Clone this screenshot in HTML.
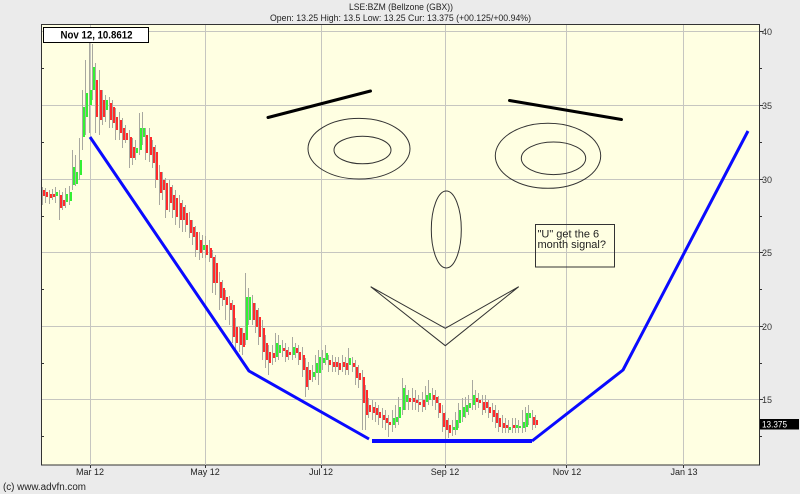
<!DOCTYPE html>
<html><head><meta charset="utf-8"><style>
html,body{margin:0;padding:0;background:#ebebeb;}
svg{display:block;}
text{font-family:"Liberation Sans",Arial,sans-serif;}
</style></head><body>
<svg width="800" height="494" viewBox="0 0 800 494" xmlns="http://www.w3.org/2000/svg">
<rect x="0" y="0" width="800" height="494" fill="#ebebeb"/>
<text x="401" y="10" font-size="9" fill="#222" text-anchor="middle" textLength="104" lengthAdjust="spacingAndGlyphs">LSE:BZM (Bellzone (GBX))</text>
<text x="400.5" y="21" font-size="9" fill="#222" text-anchor="middle" textLength="261" lengthAdjust="spacingAndGlyphs">Open: 13.25 High: 13.5 Low: 13.25 Cur: 13.375 (+00.125/+00.94%)</text>
<rect x="41.5" y="24.5" width="718" height="440.5" fill="#ffffe2" stroke="#333" stroke-width="1"/>
<g stroke="#c6c6c0" stroke-width="1">
<path d="M90.5 25V465 M205.5 25V465 M321.5 25V465 M445.5 25V465 M566.5 25V465 M683.5 25V465"/>
<path d="M42 31.5H759 M42 105.5H759 M42 179.5H759 M42 252.5H759 M42 326.5H759 M42 399.5H759"/>
</g>
<g stroke="#333" stroke-width="1">
<path d="M759 31.5H763 M759 105.5H763 M759 179.5H763 M759 252.5H763 M759 326.5H763 M759 399.5H763 M759 68.5H762 M759 142.5H762 M759 216.5H762 M759 289.5H762 M759 363.5H762 M759 436.5H762"/>
<path d="M42 68.5H44 M42 142.5H44 M42 216.5H44 M42 289.5H44 M42 363.5H44 M42 436.5H44"/>
<path d="M90.5 465V468 M205.5 465V468 M321.5 465V468 M445.5 465V468 M566.5 465V468 M683.5 465V468"/>
</g>
<g font-size="9" fill="#333">
<text x="762" y="35">40</text>
<text x="762" y="109">35</text>
<text x="762" y="183">30</text>
<text x="762" y="256">25</text>
<text x="762" y="330">20</text>
<text x="762" y="403">15</text>
</g>
<rect x="760" y="419" width="39" height="10.5" fill="#000"/>
<text x="762" y="427.5" font-size="9" fill="#fff" textLength="25" lengthAdjust="spacingAndGlyphs">13.375</text>
<g font-size="9" fill="#222" text-anchor="middle">
<text x="90" y="475">Mar 12</text>
<text x="205" y="475">May 12</text>
<text x="321" y="475">Jul 12</text>
<text x="445" y="475">Sep 12</text>
<text x="567" y="475">Nov 12</text>
<text x="684" y="475">Jan 13</text>
</g>
<text x="3" y="490" font-size="10" fill="#222" textLength="83" lengthAdjust="spacingAndGlyphs">(c) www.advfn.com</text>
<!-- wicks -->
<path fill="none" stroke="#a8a8a0" stroke-width="1" d="M42.5 187V205 M45.5 188V203 M49.5 190V204 M52.5 189V200 M55.5 187V203 M59.5 190V220 M62.5 192V210 M65.5 188V208 M69.5 186V205 M72.5 150V190 M75.5 155V186 M79.5 138V180 M82.5 90V150 M85.5 60V135 M89.5 43V133 M92.5 44V100 M95.5 63V133 M99.5 70V135 M102.5 90V125 M105.5 95V122 M109.5 97V128 M112.5 100V128 M115.5 108V140 M119.5 112V140 M122.5 118V148 M125.5 125V143 M129.5 130V168 M132.5 138V165 M135.5 140V160 M139.5 113V155 M142.5 112V145 M145.5 128V160 M149.5 128V162 M152.5 140V168 M155.5 145V188 M159.5 165V205 M162.5 172V200 M165.5 178V218 M169.5 180V212 M172.5 185V218 M175.5 190V225 M179.5 195V228 M182.5 200V232 M185.5 205V232 M189.5 212V238 M192.5 220V245 M195.5 226V257 M199.5 232V260 M202.5 235V258 M205.5 236V258 M209.5 240V262 M212.5 250V293 M215.5 255V295 M219.5 272V310 M222.5 280V306 M225.5 290V320 M229.5 296V325 M232.5 300V343 M235.5 318V350 M239.5 327V352 M242.5 328V355 M245.5 273V345 M248.5 288V325 M252.5 295V325 M255.5 303V333 M258.5 308V345 M262.5 320V360 M265.5 335V368 M268.5 345V375 M272.5 345V365 M275.5 333V362 M278.5 335V360 M282.5 340V357 M285.5 343V362 M288.5 347V360 M292.5 337V360 M295.5 343V358 M298.5 345V365 M302.5 347V377 M305.5 358V397 M308.5 362V390 M312.5 365V382 M315.5 355V380 M318.5 350V385 M322.5 350V370 M325.5 345V365 M328.5 355V372 M332.5 355V372 M335.5 357V372 M338.5 357V375 M342.5 355V372 M345.5 357V375 M348.5 348V375 M352.5 357V372 M355.5 360V385 M358.5 365V388 M362.5 370V430 M365.5 385V430 M368.5 398V418 M372.5 400V420 M375.5 402V422 M378.5 405V425 M382.5 408V428 M385.5 410V430 M388.5 415V437 M392.5 410V432 M395.5 405V428 M398.5 397V425 M402.5 378V415 M405.5 385V410 M408.5 390V410 M412.5 388V410 M415.5 390V410 M418.5 395V412 M422.5 392V412 M425.5 386V410 M428.5 380V405 M432.5 388V406 M435.5 390V410 M438.5 396V418 M442.5 405V432 M445.5 412V443 M448.5 418V438 M452.5 420V436 M455.5 412V435 M458.5 403V428 M462.5 398V422 M465.5 397V418 M468.5 395V415 M472.5 380V410 M475.5 390V410 M478.5 393V408 M482.5 395V415 M485.5 395V413 M488.5 400V418 M492.5 403V422 M495.5 405V428 M498.5 410V432 M502.5 415V433 M505.5 418V433 M508.5 420V433 M512.5 418V433 M515.5 418V433 M518.5 420V433 M522.5 410V433 M525.5 407V432 M528.5 405V425 M532.5 410V430 M535.5 415V428"/>
<!-- red bodies -->
<path fill="none" stroke="#ff2a2a" stroke-width="2" d="M44 190V196 M47 192V197 M51 194V198 M54 194V197 M61 195V208 M64 200V206 M97 80V117 M101 90V120 M104 100V117 M111 103V120 M114 107V123 M117 117V130 M121 120V133 M124 128V140 M127 133V140 M131 137V158 M134 147V158 M147 135V153 M151 137V155 M154 147V163 M157 152V180 M161 172V193 M164 180V190 M167 183V210 M171 187V203 M174 195V210 M177 198V217 M181 203V220 M184 207V220 M187 213V225 M191 220V233 M194 227V237 M197 232V250 M201 240V253 M207 245V255 M211 248V258 M214 257V283 M217 263V283 M221 282V298 M224 288V300 M227 297V305 M231 303V310 M234 305V337 M237 327V343 M241 328V345 M244 333V347 M254 303V320 M257 310V327 M260 317V337 M264 328V352 M267 343V360 M270 352V363 M274 353V358 M284 348V351 M287 350V357 M290 352V355 M297 348V353 M300 352V360 M304 355V370 M307 367V387 M310 370V380 M330 360V365 M334 362V367 M337 362V367 M340 363V370 M344 362V367 M347 363V370 M354 363V367 M357 367V378 M360 373V380 M364 377V403 M367 390V415 M370 405V412 M374 407V413 M377 408V415 M380 412V418 M384 415V420 M387 418V423 M390 422V425 M410 398V402 M414 398V402 M417 400V403 M420 402V405 M424 400V407 M434 395V400 M437 397V403 M440 403V413 M444 413V427 M447 420V430 M450 425V433 M477 398V402 M480 400V403 M484 402V410 M487 402V408 M490 407V413 M494 410V417 M497 413V423 M500 418V427 M504 423V428 M507 425V428 M514 425V428 M534 417V425 M537 420V425"/>
<!-- green bodies -->
<path fill="none" stroke="#33f033" stroke-width="2" d="M57 192V196 M67 194V202 M71 192V201 M74 167V185 M77 172V184 M81 160V175 M84 107V137 M87 93V117 M91 90V105 M94 67V90 M107 100V110 M137 148V153 M141 128V150 M144 128V137 M204 245V250 M247 297V340 M250 297V320 M277 343V357 M280 345V353 M294 347V355 M314 372V377 M317 363V373 M320 357V373 M324 358V363 M327 353V360 M350 358V365 M394 418V425 M397 417V422 M400 407V418 M404 388V410 M407 395V402 M427 395V402 M430 393V400 M454 427V430 M457 420V430 M460 410V423 M464 407V417 M467 405V412 M470 403V408 M474 395V405 M510 427V430 M517 425V428 M520 426V428 M524 422V428 M527 413V427 M530 413V418"/>
<!-- blue U line -->
<g fill="none" stroke="#0a0aff" stroke-linejoin="round">
<polyline stroke-width="3" points="90,137 249,371 369,439"/>
<line stroke-width="4" x1="372" y1="441" x2="532" y2="441"/>
<polyline stroke-width="3" points="532,441 623,370 748,131"/>
</g>
<!-- face -->
<g stroke="#000" stroke-width="3" stroke-linecap="round">
<line x1="268" y1="117.5" x2="370.5" y2="91"/>
<line x1="509.5" y1="100.5" x2="621.5" y2="119.5"/>
</g>
<g fill="none" stroke="#333" stroke-width="1">
<ellipse cx="359" cy="148.7" rx="51" ry="30.3"/>
<ellipse cx="362.5" cy="150" rx="28.5" ry="13.8"/>
<ellipse cx="548" cy="155.8" rx="52.7" ry="32.5"/>
<ellipse cx="553.5" cy="158.3" rx="32.2" ry="16.3"/>
<ellipse cx="446.3" cy="229.5" rx="15" ry="38.5"/>
<polygon points="370.7,286.7 445.3,328.3 518.7,286.7 445.3,345.7"/>
</g>
<rect x="535.5" y="224.5" width="79" height="42.5" fill="none" stroke="#333" stroke-width="1"/>
<text x="537.5" y="237.5" font-size="11" fill="#222">"U" get the 6</text>
<text x="537.5" y="248" font-size="11" fill="#222">month signal?</text>
<!-- label box -->
<rect x="43.5" y="27.5" width="105" height="15" fill="#fff" stroke="#000" stroke-width="1"/>
<text x="60.5" y="38.5" font-size="11" font-weight="bold" fill="#000" textLength="72" lengthAdjust="spacingAndGlyphs">Nov 12, 10.8612</text>
</svg>
</body></html>
